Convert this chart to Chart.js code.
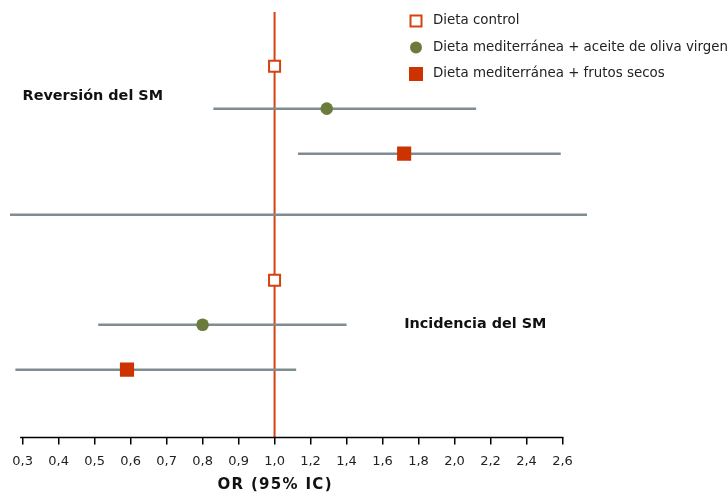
<!DOCTYPE html>
<html>
<head>
<meta charset="utf-8">
<script src="https://cdn.jsdelivr.net/npm/chart.js@4/dist/chart.umd.min.js"></script>
<style>
  html, body { margin: 0; padding: 0; background: #fff; }
  #wrap { width: 727px; height: 492px; position: relative; }
</style>
</head>
<body>
<div id="wrap"><canvas id="c"></canvas></div>
<script>
// Odds ratios (95% CI) for metabolic syndrome reversion and incidence
const groups = ['Reversión del SM', 'Incidencia del SM'];
const seriesNames = [
  'Dieta control',
  'Dieta mediterránea + aceite de oliva virgen',
  'Dieta mediterránea + frutos secos'
];
const controlOR = [1.0, 1.0];
const oliveOR   = [1.29, 0.80];
const oliveLow  = [0.83, 0.51];
const oliveHigh = [2.12, 1.40];
const nutsOR    = [1.72, 0.59];
const nutsLow   = [1.13, 0.28];
const nutsHigh  = [2.59, 1.12];
const tickValues = [0.3, 0.4, 0.5, 0.6, 0.7, 0.8, 0.9, 1.0, 1.2, 1.4, 1.6, 1.8, 2.0, 2.2, 2.4, 2.6];
const axisTitle = 'OR (95% IC)';

// Broken OR axis: steps of 0.1 below 1, steps of 0.2 above 1, equal spacing
function toAxis(v) {
  return v <= 1 ? (v - 0.3) / 0.1 : 7 + (v - 1) / 0.2;
}
const fmt = v => v.toFixed(1).replace('.', ',');

// Vertical layout of the rows (y scale units, top to bottom)
const rowY = {
  control: [1.22, 6.02],
  olive:   [2.17, 7.02],
  nuts:    [3.18, 8.03],
  separator: 4.55,
  groupLabel: [1.9, 7.02]
};
const groupLabelX = [0.3, 1.72];

const RED = '#d4420f';
const RED_FILL = '#cc3300';
const GREEN = '#6b7b3b';
const GREY = '#7f8d92';
const FONT = '"DejaVu Sans", Verdana, sans-serif';

function ciDataset(low, high, y) {
  return {
    type: 'line',
    data: [{ x: toAxis(low), y: y }, { x: toAxis(high), y: y }],
    borderColor: GREY,
    borderWidth: 2.5,
    pointRadius: 0,
    order: 2
  };
}

const datasets = [
  {
    label: seriesNames[0],
    data: controlOR.map((v, i) => ({ x: toAxis(v), y: rowY.control[i] })),
    pointStyle: 'rect', pointRadius: 7.8, pointBorderWidth: 2,
    backgroundColor: '#fff', borderColor: RED, order: 0
  },
  {
    label: seriesNames[1],
    data: oliveOR.map((v, i) => ({ x: toAxis(v), y: rowY.olive[i] })),
    pointStyle: 'circle', pointRadius: 6.3, pointBorderWidth: 0,
    backgroundColor: GREEN, borderColor: GREEN, order: 0
  },
  {
    label: seriesNames[2],
    data: nutsOR.map((v, i) => ({ x: toAxis(v), y: rowY.nuts[i] })),
    pointStyle: 'rect', pointRadius: 10, pointBorderWidth: 0,
    backgroundColor: RED_FILL, borderColor: RED_FILL, order: 0
  }
];
groups.forEach((g, i) => {
  datasets.push(ciDataset(oliveLow[i], oliveHigh[i], rowY.olive[i]));
  datasets.push(ciDataset(nutsLow[i], nutsHigh[i], rowY.nuts[i]));
});

const decorations = {
  id: 'decorations',
  beforeDatasetsDraw(chart) {
    const { ctx, chartArea, scales } = chart;
    const x1 = scales.x.getPixelForValue(toAxis(1));
    ctx.save();
    // reference line at OR = 1
    ctx.strokeStyle = RED;
    ctx.lineWidth = 2;
    ctx.beginPath();
    ctx.moveTo(x1, chartArea.top);
    ctx.lineTo(x1, chartArea.bottom);
    ctx.stroke();
    // divider between the two outcomes
    const ys = scales.y.getPixelForValue(rowY.separator);
    ctx.strokeStyle = GREY;
    ctx.lineWidth = 2.5;
    ctx.beginPath();
    ctx.moveTo(chartArea.left, ys);
    ctx.lineTo(chartArea.right, ys);
    ctx.stroke();
    ctx.restore();
  },
  afterDraw(chart) {
    const { ctx, chartArea, scales } = chart;
    ctx.save();
    // x axis line, from just left of the first tick to the last tick
    const xa = scales.x.getPixelForValue(0) - 2.5;
    const xb = scales.x.getPixelForValue(tickValues.length - 1) + 0.75;
    ctx.strokeStyle = '#000';
    ctx.lineWidth = 1.5;
    ctx.beginPath();
    ctx.moveTo(xa, chartArea.bottom);
    ctx.lineTo(xb, chartArea.bottom);
    ctx.stroke();

    // axis title, centred under OR = 1
    ctx.fillStyle = '#111';
    ctx.font = 'bold 15px ' + FONT;
    ctx.letterSpacing = '1.3px';
    ctx.textAlign = 'center';
    ctx.textBaseline = 'middle';
    ctx.fillText(axisTitle, scales.x.getPixelForValue(toAxis(1)) + 0.6, 485);
    ctx.letterSpacing = '0px';

    // outcome labels
    ctx.font = 'bold 14.4px ' + FONT;
    ctx.textAlign = 'left';
    groups.forEach((g, i) => {
      const gx = scales.x.getPixelForValue(toAxis(groupLabelX[i]));
      const gy = scales.y.getPixelForValue(rowY.groupLabel[i]);
      ctx.fillText(g, gx, gy);
    });

    // legend
    const lx = 416, ly0 = 21, step = 26.5;
    ctx.font = '13.4px ' + FONT;
    chart.data.datasets.slice(0, 3).forEach((ds, i) => {
      const y = ly0 + i * step;
      if (i === 0) {
        ctx.fillStyle = '#fff';
        ctx.fillRect(lx - 5.5, y - 5.5, 11, 11);
        ctx.strokeStyle = RED;
        ctx.lineWidth = 2;
        ctx.strokeRect(lx - 5.5, y - 5.5, 11, 11);
      } else if (i === 1) {
        ctx.fillStyle = GREEN;
        ctx.beginPath();
        ctx.arc(lx, y, 6, 0, Math.PI * 2);
        ctx.fill();
      } else {
        ctx.fillStyle = RED_FILL;
        ctx.fillRect(lx - 7, y - 7, 14, 14);
      }
      ctx.fillStyle = '#222';
      ctx.fillText(ds.label, 433, y);
    });
    ctx.restore();
  }
};

new Chart(document.getElementById('c'), {
  type: 'scatter',
  data: { datasets },
  plugins: [decorations],
  options: {
    responsive: true,
    maintainAspectRatio: false,
    animation: false,
    layout: { padding: { left: 10, right: 140, top: 12, bottom: 14 } },
    plugins: { legend: { display: false }, tooltip: { enabled: false } },
    scales: {
      x: {
        type: 'linear',
        min: -0.35,
        max: 15.68,
        afterBuildTicks(scale) {
          scale.ticks = tickValues.map(v => ({ value: toAxis(v) }));
        },
        ticks: {
          autoSkip: false,
          maxRotation: 0,
          padding: 9,
          color: '#222',
          font: { family: FONT, size: 13 },
          callback: (value) => {
            const i = tickValues.findIndex(v => Math.abs(toAxis(v) - value) < 1e-6);
            return i >= 0 ? fmt(tickValues[i]) : '';
          }
        },
        grid: { display: true, drawOnChartArea: false, drawTicks: true, tickLength: 7, color: '#000', lineWidth: 1.5 },
        border: { display: false },
        title: { display: false }
      },
      y: {
        type: 'linear',
        display: false,
        reverse: true,
        min: 0,
        max: 9.55
      }
    }
  }
});
</script>
</body>
</html>
